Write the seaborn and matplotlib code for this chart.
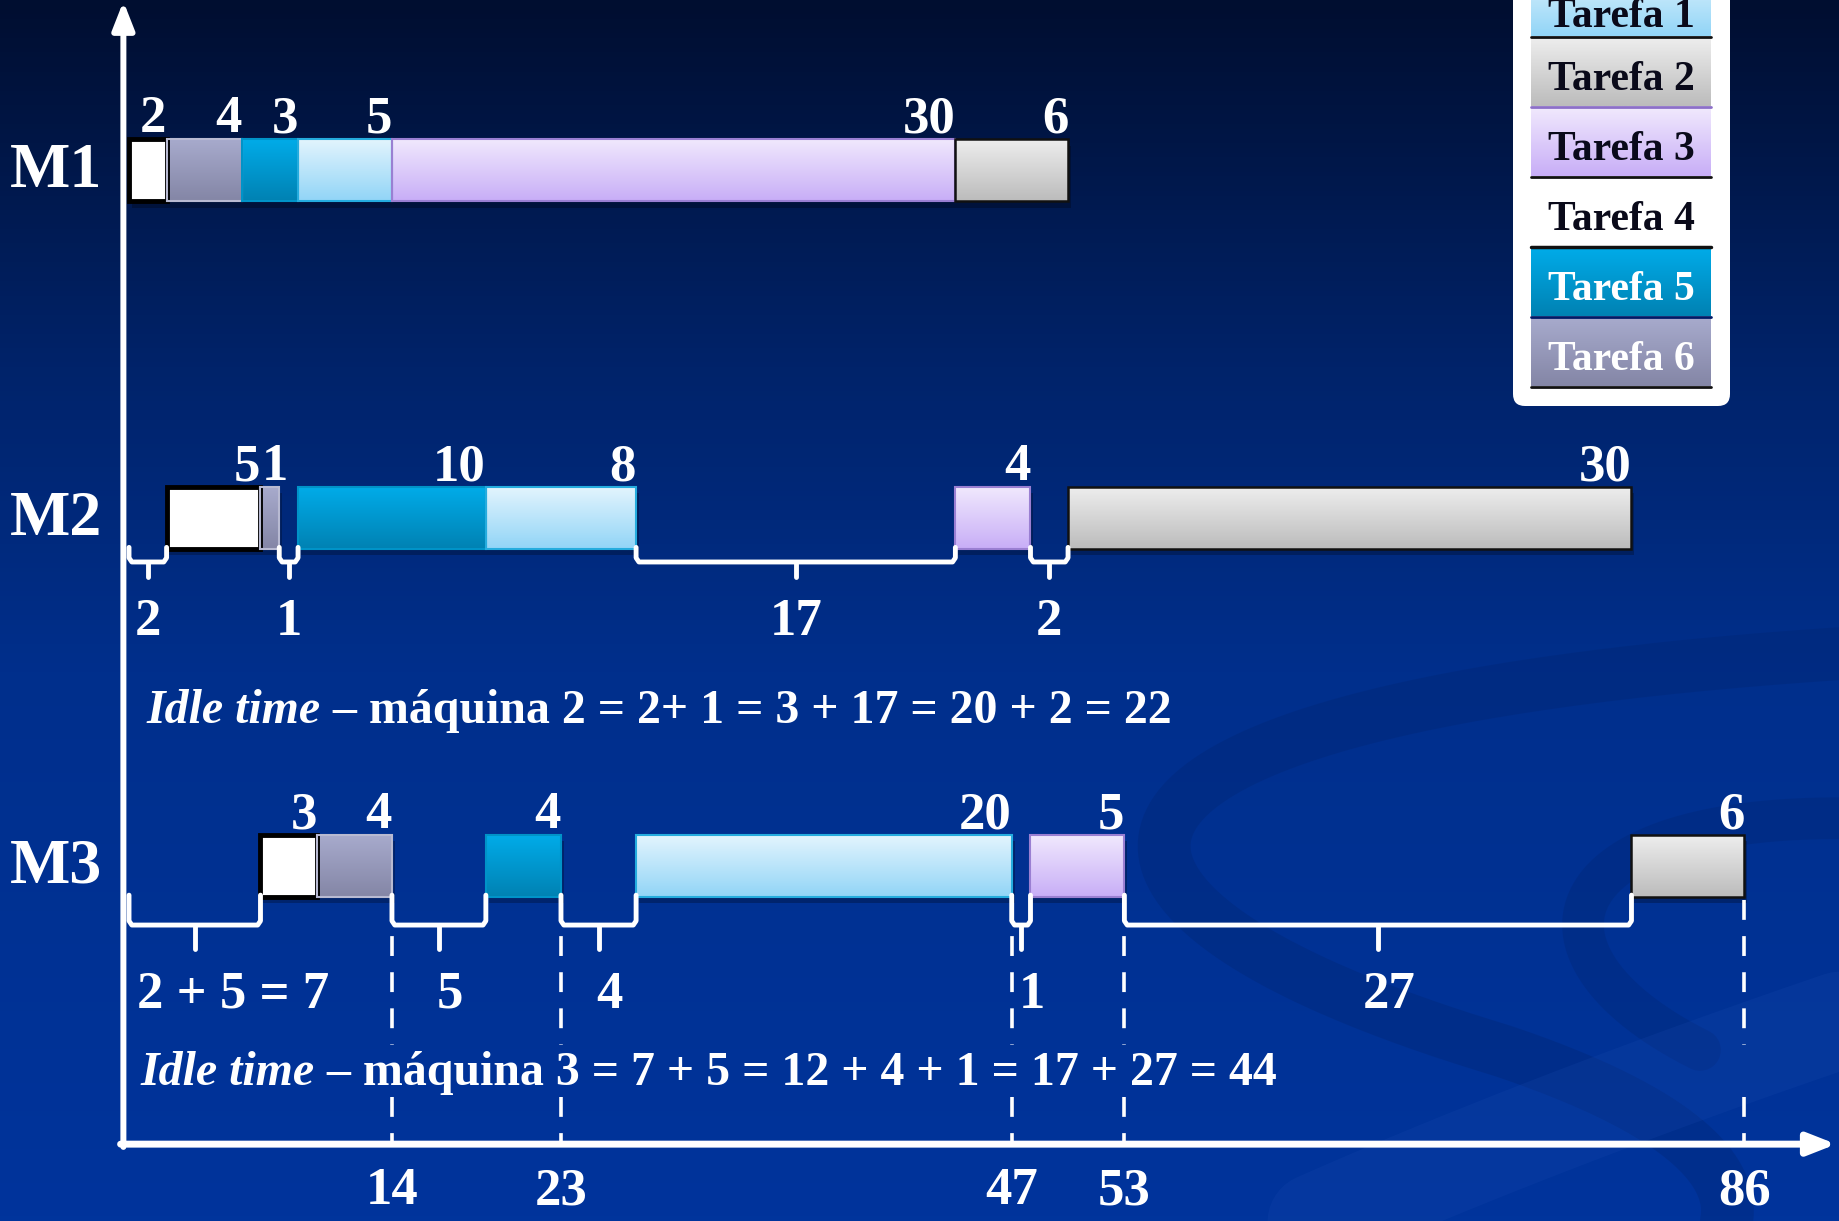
import numpy as np
import matplotlib
matplotlib.use('Agg')
import matplotlib.pyplot as plt
import seaborn as sns
from matplotlib.colors import LinearSegmentedColormap
from matplotlib.patches import FancyBboxPatch, Rectangle

# ---- data ----
task_names = ['Tarefa 1', 'Tarefa 2', 'Tarefa 3', 'Tarefa 4', 'Tarefa 5', 'Tarefa 6']
machines = ['M1', 'M2', 'M3']
sequence = [4, 6, 5, 1, 3, 2]           # same task order on every machine
m1_times = [2, 4, 3, 5, 30, 6]
m2_times = [5, 1, 10, 8, 4, 30]
m3_times = [3, 4, 4, 20, 5, 6]
m2_idle_labels = ['2', '1', '17', '2']
m3_idle_labels = ['2 + 5 = 7', '5', '4', '1', '27']
m3_marks = [14, 23, 47, 53, 86]
idle_m2 = ('Idle time', ' – máquina 2 = 2+ 1 = 3 + 17 = 20 + 2 = 22')
idle_m3 = ('Idle time', ' – máquina 3 = 7 + 5 = 12 + 4 + 1 = 17 + 27 = 44')

# colours per task: (top of gradient, bottom of gradient, border)
task_colors = {
    1: ('#e2f4fd', '#92d5f7', '#25acde'),
    2: ('#ededed', '#bcbcbc', '#111111'),
    3: ('#f0e8fd', '#c8aef7', '#9a7fd2'),
    4: ('#ffffff', '#ffffff', '#000000'),
    5: ('#00abe8', '#0082b3', '#0093c8'),
    6: ('#a7aacc', '#8486a6', '#b8bad2'),
}
legend_text_colors = ['#0a0a1a', '#0a0a1a', '#0a0a1a', '#0a0a1a', 'white', 'white']

# ---- flow shop schedule (start times follow from the durations) ----
durations = [m1_times, m2_times, m3_times]
starts = []
prev_end = [0] * len(sequence)
for m in range(len(machines)):
    t = 0
    row = []
    for j in range(len(sequence)):
        s = max(t, prev_end[j])
        row.append(s)
        t = s + durations[m][j]
        prev_end[j] = t
    starts.append(row)

def gaps_of(m):
    out, t = [], 0
    for j in range(len(sequence)):
        if starts[m][j] > t:
            out.append((t, starts[m][j]))
        t = starts[m][j] + durations[m][j]
    return out

# ---- figure ----
W, H = 1839, 1221
sns.set_theme(style='white')
plt.rcParams['font.family'] = ['Liberation Serif', 'DejaVu Serif']
plt.rcParams['font.weight'] = 'bold'

fig = plt.figure(figsize=(W / 100, H / 100), dpi=100)

# background gradient + faint swirl ribbons
bg = fig.add_axes([0, 0, 1, 1], zorder=0)
bg_cmap = LinearSegmentedColormap.from_list('bg', [(0, '#000e30'), (0.3, '#00236a'),
                                                    (0.55, '#002f8c'), (1, '#00349c')])
bg.imshow(np.linspace(0, 1, 256).reshape(-1, 1), aspect='auto', cmap=bg_cmap,
          extent=[0, W, H, 0])

def bezier(p0, p1, p2, p3, n=200):
    s = np.linspace(0, 1, n)[:, None]
    pts = ((1 - s) ** 3 * np.array(p0) + 3 * (1 - s) ** 2 * s * np.array(p1)
           + 3 * (1 - s) * s ** 2 * np.array(p2) + s ** 3 * np.array(p3))
    return pts[:, 0], pts[:, 1]

# one long S ribbon made of two joined curves
ax1, ay1 = bezier((1900, 650), (1000, 700), (1000, 900), (1500, 1050))
ax2, ay2 = bezier((1500, 1050), (1800, 1150), (1750, 1250), (1650, 1300))
bg.plot(np.concatenate([ax1, ax2[1:]]), np.concatenate([ay1, ay2[1:]]),
        color='#00246e', lw=38, alpha=0.3, solid_capstyle='round')
for ctrl, lw, col, a in [
        (((1900, 820), (1550, 800), (1500, 950), (1700, 1050)), 30, '#00246e', 0.28),
        (((1900, 1000), (1600, 1100), (1350, 1200), (1150, 1300)), 70, '#1a4cb0', 0.2)]:
    bx, by = bezier(*ctrl)
    bg.plot(bx, by, color=col, lw=lw, alpha=a, solid_capstyle='round')
bg.set_xlim(0, W)
bg.set_ylim(H, 0)
bg.axis('off')

# main axes in time units / machine rows
ax = fig.add_axes([0, 0, 1, 1], zorder=1)
ax.patch.set_alpha(0)
bar_h = 0.178
x_left, x_right = -6.87, 91.05
y_top, y_bottom = -0.490, 3.021
axis_y = 2.80
axis_x = -0.3
digit_w = 1.41          # width of one label digit in time units

for m, name in enumerate(machines):
    ax.text(-6.35, m + 0.005, name, color='white', fontsize=46, ha='left', va='center')
    lefts = starts[m]
    widths = durations[m]
    # shadow
    ax.barh([m + 0.018] * 6, widths, left=[l + 0.15 for l in lefts], height=bar_h,
            color='black', alpha=0.25, zorder=1, linewidth=0)
    bars = ax.barh([m] * 6, widths, left=lefts, height=bar_h,
                   color=[task_colors[k][1] for k in sequence], linewidth=0, zorder=2)
    prev_right = -10
    for patch, k, l, w in zip(bars, sequence, lefts, widths):
        top_c, bot_c, edge_c = task_colors[k]
        cm = LinearSegmentedColormap.from_list('g%d' % k, [top_c, bot_c])
        im = ax.imshow(np.linspace(0, 1, 64).reshape(-1, 1), cmap=cm, aspect='auto',
                       extent=[l, l + w, m + bar_h / 2, m - bar_h / 2], zorder=2.5)
        im.set_clip_path(patch)
        lw = 3.5 if k == 4 else (1.8 if k == 2 else 1.5)
        ax.add_patch(Rectangle((l, m - bar_h / 2), w, bar_h, fill=False,
                               edgecolor=edge_c, linewidth=lw, zorder=3))
        lab = str(w)
        right = max(l + w, prev_right + digit_w * len(lab) + 0.05)
        ax.text(right, m - bar_h / 2 - 0.02, lab, color='white', fontsize=38,
                ha='right', va='baseline', zorder=4)
        prev_right = right

# idle braces
def brace(x0, x1, y_start, y_line, y_tip):
    xm = (x0 + x1) / 2
    ax.plot([x0, x0, x0 + 0.15, x1 - 0.15, x1, x1],
            [y_start, y_line - 0.012, y_line, y_line, y_line - 0.012, y_start],
            color='white', lw=3.5, solid_joinstyle='round', zorder=4)
    ax.plot([xm, xm], [y_line, y_tip], color='white', lw=3.5, zorder=4)

for (g0, g1), lab in zip(gaps_of(1), m2_idle_labels):
    brace(g0, g1, 1 + bar_h / 2 - 0.005, 1.126, 1.17)
    ax.text((g0 + g1) / 2, 1.30, lab, color='white', fontsize=38, ha='center', va='center')

for i, ((g0, g1), lab) in enumerate(zip(gaps_of(2), m3_idle_labels)):
    brace(g0, g1, 2 + bar_h / 2 - 0.005, 2.170, 2.239)
    if i == 0:
        ax.text(g0 + 0.45, 2.37, lab, color='white', fontsize=38, ha='left', va='center')
    else:
        ax.text((g0 + g1) / 2 + 0.6, 2.37, lab, color='white', fontsize=38,
                ha='center', va='center')

# dashed markers (interrupted behind the M3 sentence) and time labels
text_gap = (2.515, 2.665)
for t in m3_marks:
    for y0, y1 in [(2 + bar_h / 2 + 0.01, text_gap[0]), (text_gap[1], axis_y - 0.01)]:
        ax.plot([t, t], [y0, y1], color='white', lw=2.6,
                linestyle=(0, (5.5, 4.5)), zorder=4)
    ax.text(t, 2.935, str(t), color='white', fontsize=38, ha='center', va='center')

# idle time sentences
for (ital, rest), (x, y) in zip([idle_m2, idle_m3], [(0.94, 1.555), (0.62, 2.596)]):
    t1 = ax.text(x, y, ital, color='white', fontsize=34.5, style='italic',
                 ha='left', va='center', zorder=5)
    ax.annotate(rest, xy=(1, 0), xycoords=t1, color='white', fontsize=34.5,
                ha='left', va='bottom', zorder=5)

# axes arrows
ax.annotate('', xy=(axis_x, -0.486), xytext=(axis_x, axis_y + 0.008),
            arrowprops=dict(arrowstyle='-|>,head_length=1.4,head_width=0.55',
                            color='white', lw=4.3, shrinkA=0, shrinkB=0), zorder=5)
ax.annotate('', xy=(90.9, axis_y), xytext=(axis_x - 0.15, axis_y),
            arrowprops=dict(arrowstyle='-|>,head_length=1.4,head_width=0.55',
                            color='white', lw=5, shrinkA=0, shrinkB=0), zorder=5)

ax.set_xlim(x_left, x_right)
ax.set_ylim(y_bottom, y_top)
ax.axis('off')

# legend box in pixel coordinates
lax = fig.add_axes([0, 0, 1, 1], zorder=3)
lax.patch.set_alpha(0)
lax.add_patch(FancyBboxPatch((1513, -40), 217, 446,
                             boxstyle='round,pad=0,rounding_size=12',
                             facecolor='white', edgecolor='none'))
cell_x0, cell_x1 = 1531, 1711
for i, name in enumerate(task_names):
    top = -31.6 + 69.9 * i
    bottom = top + 68
    top_c, bot_c, edge_c = task_colors[i + 1]
    cm = LinearSegmentedColormap.from_list('l%d' % i, [top_c, bot_c])
    lax.imshow(np.linspace(0, 1, 64).reshape(-1, 1), cmap=cm, aspect='auto',
               extent=[cell_x0, cell_x1, bottom, top], zorder=2)
    if i != 3:
        line_c = '#8c6fc8' if i == 1 else ('#001a66' if i == 4 else '#111111')
        lax.plot([cell_x0, cell_x1], [bottom + 1, bottom + 1], color=line_c, lw=2, zorder=3)
    if i == 4:
        lax.plot([cell_x0, cell_x1], [top - 1, top - 1], color='#111111', lw=2.5, zorder=3)
    dy = 15 if i == 0 else 8
    lax.text((cell_x0 + cell_x1) / 2, (top + bottom) / 2 + dy, name,
             color=legend_text_colors[i], fontsize=30, ha='center', va='center', zorder=4)
lax.set_xlim(0, W)
lax.set_ylim(H, 0)
lax.axis('off')

fig.savefig('out.png', dpi=100)
